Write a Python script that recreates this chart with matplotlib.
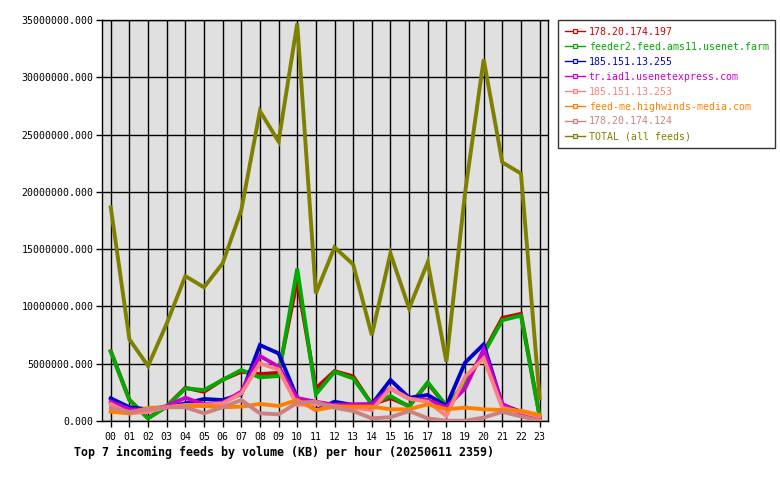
import numpy as np
import matplotlib
matplotlib.use("Agg")
import matplotlib.pyplot as plt
from matplotlib.lines import Line2D
from matplotlib.ticker import FuncFormatter

hours = ["%02d" % h for h in range(24)]

feeds = ["178.20.174.197", "feeder2.feed.ams11.usenet.farm", "185.151.13.255",
         "tr.iad1.usenetexpress.com", "185.151.13.253", "feed-me.highwinds-media.com",
         "178.20.174.124", "TOTAL (all feeds)"]
colors = ["#cc0000", "#00aa00", "#0000cc", "#cc00cc", "#ff8080", "#ff8000", "#cc8080", "#808000"]

# values in millions of KB
v_178_197 = [6.1, 1.85, 0.25, 1.3, 2.9, 2.55, 3.6, 4.3, 4.1, 4.2, 12.3, 2.85, 4.35, 3.9,
             1.45, 2.0, 1.3, 3.3, 1.3, 3.3, 6.0, 9.0, 9.35, 0.45]
v_feeder2 = [6.05, 1.83, 0.23, 1.25, 2.85, 2.7, 3.58, 4.45, 3.81, 3.93, 13.3, 2.33, 4.3, 3.72,
             1.48, 2.18, 1.25, 3.38, 1.31, 3.3, 5.9, 8.8, 9.2, 0.4]
v_185_255 = [1.98, 1.2, 1.02, 1.2, 1.54, 1.92, 1.83, 2.33, 6.63, 5.9, 2.03, 0.96, 1.68, 1.4,
             1.46, 3.58, 2.03, 2.27, 1.31, 5.09, 6.69, 1.4, 0.81, 0.23]
v_iad1 = [1.68, 1.02, 0.96, 1.3, 2.03, 1.46, 1.6, 2.56, 5.67, 4.74, 2.0, 1.68, 1.4, 1.46,
          1.46, 2.85, 1.95, 1.83, 1.2, 2.85, 6.26, 1.49, 0.67, 0.3]
v_185_253 = [1.48, 0.67, 0.8, 1.2, 1.4, 1.4, 1.54, 2.4, 5.03, 4.5, 1.4, 1.49, 1.3, 1.15,
             0.96, 2.85, 1.95, 1.68, 0.44, 3.87, 5.47, 1.15, 0.8, 0.4]
v_highwinds = [0.81, 0.67, 1.15, 1.2, 1.31, 1.31, 1.2, 1.25, 1.49, 1.31, 1.83, 0.96, 1.25, 1.25,
               1.25, 1.02, 1.02, 1.46, 1.02, 1.17, 1.02, 0.96, 0.9, 0.52]
v_178_124 = [1.15, 0.8, 1.0, 1.2, 1.2, 0.67, 1.2, 1.83, 0.67, 0.58, 1.6, 1.68, 1.15, 0.87,
             0.23, 0.33, 0.87, 0.23, 0.02, 0.02, 0.3, 0.8, 0.4, 0.05]
v_total = [18.65, 7.13, 4.8, 8.5, 12.65, 11.67, 13.76, 18.4, 27.05, 24.4, 34.7, 11.14, 15.16, 13.67,
           7.5, 14.63, 9.83, 13.85, 5.18, 19.9, 31.56, 22.57, 21.6, 1.98]

series = [v_178_197, v_feeder2, v_185_255, v_iad1, v_185_253, v_highwinds, v_178_124, v_total]

mono = "DejaVu Sans Mono"
fig = plt.figure(figsize=(7.8, 4.8), dpi=100)
ax = fig.add_axes([102 / 780, 1 - 421 / 480, 446 / 780, 401 / 480])
ax.set_facecolor("#e0e0e0")

x = np.arange(24)
for vals, c in zip(series, colors):
    ax.plot(x, np.array(vals) * 1e6, color=c, lw=2.8, solid_joinstyle="miter", zorder=3)

ax.set_xlim(-0.47, 23.45)
ax.set_ylim(0, 35e6)
ax.set_xticks(x)
ax.set_xticklabels(hours, fontfamily=mono, fontsize=7.1)
ax.set_yticks(np.arange(0, 35e6 + 1, 5e6))
ax.yaxis.set_major_formatter(FuncFormatter(lambda v, p: "%.3f" % v))
for lbl in ax.get_yticklabels():
    lbl.set_fontfamily(mono)
    lbl.set_fontsize(7.1)
ax.tick_params(axis="y", length=4, width=1, pad=2)
ax.tick_params(axis="x", length=4, width=1, pad=4)
ax.grid(True, color="black", lw=1, zorder=1)
ax.set_axisbelow(True)
for s in ax.spines.values():
    s.set_color("black")
    s.set_linewidth(1)

handles = [Line2D([0], [0], color=c, lw=1, marker="s", markersize=3,
                  markerfacecolor="#e0e0e0", markeredgecolor=c, markeredgewidth=0.8)
           for c in colors]
leg = fig.legend(handles, feeds, loc="upper left", bbox_to_anchor=(558 / 780, 1 - 20 / 480),
                 prop={"family": mono, "size": 7.1}, frameon=True, fancybox=False,
                 edgecolor="black", handlelength=2.0, handletextpad=0.4,
                 labelspacing=0.5, borderpad=0.7, borderaxespad=0)
leg.get_frame().set_linewidth(1)
for t, c in zip(leg.get_texts(), colors):
    t.set_color(c)

fig.text(74 / 780, 1 - 452 / 480, "Top 7 incoming feeds by volume (KB) per hour (20250611 2359)",
         fontfamily=mono, fontweight="bold", fontsize=8.4, va="center", ha="left")

fig.savefig("out.png", dpi=100)
